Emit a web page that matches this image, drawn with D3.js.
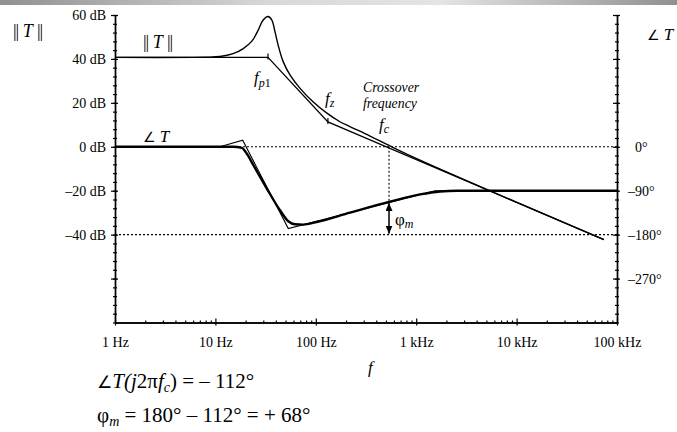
<!DOCTYPE html>
<html>
<head>
<meta charset="utf-8">
<script src="https://cdn.jsdelivr.net/npm/d3@7"></script>
<style>
body { margin: 0; background: #fff; }
svg text { font-family: "Liberation Serif", "Times New Roman", serif; fill: #000; }
.it { font-style: italic; }
</style>
</head>
<body>
<svg id="chart" width="677" height="432"></svg>
<script>
// values: [frequency Hz, dB] and [frequency Hz, degrees]
const magAsymptote = [[1, 40.7], [33.4, 40.7], [132, 11.3], [74000, -42.3]];
const magActual = [[1, 40.7], [8, 40.8], [11.1, 41.1], [15, 42.4], [18.8, 44.6], [23.2, 48.2], [26.6, 53],
    [29.8, 57.6], [33.4, 59.3], [36.6, 57.6], [39.2, 52.4], [42.1, 46.4], [47.1, 39],
    [55.3, 32.7], [69.7, 26.6], [93.8, 20.5], [129, 15.3], [174, 11.4], [219, 9.2],
    [347, 4.9], [536, 0.6], [1090, -6.1], [74000, -42.3]];
const phaseAsymptote = [[1, 0], [11.1, 0], [18.7, 13.5], [53.2, -167.6], [1540, -90], [1e5, -90]];
const phaseActual = [[1, 0], [15, 0], [18.3, -2.3], [20.5, -13.8], [23.9, -37.7], [32.5, -85.5],
    [44, -130.1], [53.2, -152.6], [62.1, -158.8], [75.2, -159.4], [102, -154.1], [219, -134.9],
    [536, -113], [1090, -97.6], [1726, -91.5], [2550, -90], [1e5, -90]];

// corner frequencies marked on the asymptote
const corners = [[33.4, 40.7], [132, 11.3]];
const fc = 536, phaseAtFc = -113, phaseRef = -180;

// axis ticks
const decades = [1, 10, 100, 1000, 10000, 100000];
const freqLabels = ["1 Hz", "10 Hz", "100 Hz", "1 kHz", "10 kHz", "100 kHz"];
const dbTicks = [60, 40, 20, 0, -20, -40, -60];
const dbLabels = ["60 dB", "40 dB", "20 dB", "0 dB", "\u201320 dB", "\u201340 dB", ""];
const degTicks = [270, 180, 90, 0, -90, -180, -270];
const degLabels = ["", "", "", "\u00a0\u00a00\u00b0", "\u201390\u00b0", "\u2013180\u00b0", "\u2013270\u00b0"];

const svg = d3.select("#chart");

let x = d3.scaleLog().domain([1, 1e5]).range([115, 617]),
    yDb = d3.scaleLinear().domain([-80, 60]).range([322.5, 15]),
    yDeg = d3.scaleLinear().domain([-360, 270]).range([322.5, 15]);

// grey strip along the top
const defs = svg.append("defs");
const grad = defs.append("linearGradient").attr("id", "bar");
grad.selectAll("stop")
    .data([["0%", "#909090"], ["40%", "#d8d8d8"], ["65%", "#e4e4e4"], ["100%", "#909090"]])
    .join("stop")
    .attr("offset", d => d[0])
    .attr("stop-color", d => d[1]);
svg.append("rect").attr("width", 677).attr("height", 5).attr("fill", "url(#bar)");

defs.append("marker")
    .attr("id", "head")
    .attr("viewBox", "0 0 8 7")
    .attr("refX", 8).attr("refY", 3.5)
    .attr("markerWidth", 8).attr("markerHeight", 7)
    .attr("markerUnits", "userSpaceOnUse")
    .attr("orient", "auto-start-reverse")
    .append("path").attr("d", "M0,0L8,3.5L0,7z").attr("fill", "#000");

function styleAxis(g) {
    g.attr("font-size", 14).attr("font-family", null);
    g.selectAll("path, line").attr("stroke", "#000").attr("stroke-width", 1.2);
    g.select(".domain").attr("stroke-width", 1.4);
}

// left axis (dB)
svg.append("g").attr("transform", "translate(115,0)")
    .call(d3.axisLeft(yDb).tickValues(d3.range(-80, 61, 4)).tickSize(2).tickSizeOuter(0).tickFormat(""))
    .call(styleAxis)
    .call(g => g.selectAll(".tick line").attr("x1", 2));
svg.append("g").attr("transform", "translate(115,0)")
    .call(d3.axisLeft(yDb).tickValues(dbTicks).tickSize(4).tickPadding(5).tickSizeOuter(0)
        .tickFormat((d, i) => dbLabels[i]))
    .call(styleAxis)
    .call(g => g.selectAll(".tick line").attr("x1", 3));

// right axis (degrees)
svg.append("g").attr("transform", "translate(617,0)")
    .call(d3.axisRight(yDeg).tickValues(d3.range(-360, 271, 18)).tickSize(2).tickSizeOuter(0).tickFormat(""))
    .call(styleAxis)
    .call(g => g.selectAll(".tick line").attr("x1", -2));
svg.append("g").attr("transform", "translate(617,0)")
    .call(d3.axisRight(yDeg).tickValues(degTicks).tickSize(3).tickPadding(8).tickSizeOuter(0)
        .tickFormat((d, i) => degLabels[i]))
    .call(styleAxis)
    .call(g => g.selectAll(".tick line").attr("x1", -4));

// bottom axis (frequency)
let minorFreqs = [];
decades.slice(0, -1).forEach(d => d3.range(2, 10).forEach(k => minorFreqs.push(d * k)));
svg.append("g").attr("transform", "translate(0,322.5)")
    .call(d3.axisBottom(x).tickValues(minorFreqs).tickSize(-2).tickSizeOuter(0).tickFormat(""))
    .call(styleAxis);
svg.append("g").attr("transform", "translate(0,322.5)")
    .call(d3.axisBottom(x).tickValues(decades).tickSize(3).tickPadding(12).tickSizeOuter(0)
        .tickFormat((d, i) => freqLabels[i]))
    .call(styleAxis)
    .call(g => g.selectAll(".tick line").attr("y1", -4));

// dotted reference lines
const dotted = svg.append("g").attr("stroke", "#000").attr("stroke-width", 1.1).attr("stroke-dasharray", "2,2");
dotted.append("line").attr("x1", x(1)).attr("x2", x(1e5)).attr("y1", yDb(0)).attr("y2", yDb(0));
dotted.append("line").attr("x1", x(1)).attr("x2", x(1e5)).attr("y1", yDb(-40)).attr("y2", yDb(-40));
dotted.append("line").attr("x1", x(fc)).attr("x2", x(fc)).attr("y1", yDb(0)).attr("y2", yDeg(phaseAtFc));

// curves
let magLine = d3.line().x(d => x(d[0])).y(d => yDb(d[1])),
    phaseLine = d3.line().x(d => x(d[0])).y(d => yDeg(d[1]));

svg.append("path").datum(magAsymptote).attr("d", magLine)
    .attr("fill", "none").attr("stroke", "#000").attr("stroke-width", 1.3);
svg.append("path").datum(magActual).attr("d", magLine.curve(d3.curveCatmullRom.alpha(0.5)))
    .attr("fill", "none").attr("stroke", "#000").attr("stroke-width", 1.4);
svg.append("path").datum(phaseAsymptote).attr("d", phaseLine)
    .attr("fill", "none").attr("stroke", "#000").attr("stroke-width", 1.1);
svg.append("path").datum(phaseActual).attr("d", phaseLine.curve(d3.curveMonotoneX))
    .attr("fill", "none").attr("stroke", "#000").attr("stroke-width", 2.4);

// small marks at the corner frequencies
svg.append("g").selectAll("line").data(corners).join("line")
    .attr("x1", d => x(d[0])).attr("x2", d => x(d[0]))
    .attr("y1", d => yDb(d[1]) - 4).attr("y2", d => yDb(d[1]) + 2)
    .attr("stroke", "#000").attr("stroke-width", 1.2);

// phase margin arrow
svg.append("line")
    .attr("x1", x(fc)).attr("x2", x(fc))
    .attr("y1", yDeg(phaseAtFc) + 1).attr("y2", yDeg(phaseRef) - 1)
    .attr("stroke", "#000").attr("stroke-width", 1.5)
    .attr("marker-start", "url(#head)").attr("marker-end", "url(#head)");

// labels
function addText(px, py, size, parts) {
    let t = svg.append("text").attr("x", px).attr("y", py).attr("font-size", size);
    parts.forEach(p => {
        let s = t.append("tspan").text(p.t);
        if (p.i) s.attr("class", "it");
        if (p.dy) s.attr("dy", p.dy);
        if (p.fs) s.attr("font-size", p.fs);
        if (p.ls) s.attr("letter-spacing", p.ls);
        if (p.ff) s.attr("font-family", p.ff);
    });
    return t;
}

addText(13, 37, 18, [{t: "||", ls: -1}, {t: " T ", i: true}, {t: "||", ls: -1}]);
addText(143, 48, 18, [{t: "||", ls: -1}, {t: " T ", i: true}, {t: "||", ls: -1}]);
addText(143, 142, 17, [{t: "\u2220", ff: "DejaVu Sans", fs: 14}, {t: " T", i: true}]);
addText(647, 40, 17, [{t: "\u2220", ff: "DejaVu Sans", fs: 14}, {t: " T", i: true}]);
addText(254, 83, 17, [{t: "f", i: true}, {t: "p", i: true, fs: 12, dy: 4}, {t: "1", fs: 12}]);
addText(325, 104, 17, [{t: "f", i: true}, {t: "z", i: true, fs: 12, dy: 3}]);
addText(363, 92, 13.8, [{t: "Crossover", i: true}]);
addText(363, 107.5, 13.8, [{t: "frequency", i: true}]);
addText(379, 130, 17, [{t: "f", i: true}, {t: "c", i: true, fs: 12, dy: 3}]);
addText(395, 225, 17, [{t: "\u03c6"}, {t: "m", i: true, fs: 12, dy: 3}]);
addText(368, 373, 17, [{t: "f", i: true}]);
addText(97, 388, 21, [{t: "\u2220", ff: "DejaVu Sans", fs: 17}, {t: "T(j", i: true}, {t: "2\u03c0"},
    {t: "f", i: true}, {t: "c", i: true, fs: 14, dy: 4}, {t: ") = \u2013 112\u00b0", dy: -4}]);
addText(97, 422, 21, [{t: "\u03c6"}, {t: "m", i: true, fs: 14, dy: 4},
    {t: " = 180\u00b0 \u2013 112\u00b0 = + 68\u00b0", dy: -4}]);
</script>
</body>
</html>
